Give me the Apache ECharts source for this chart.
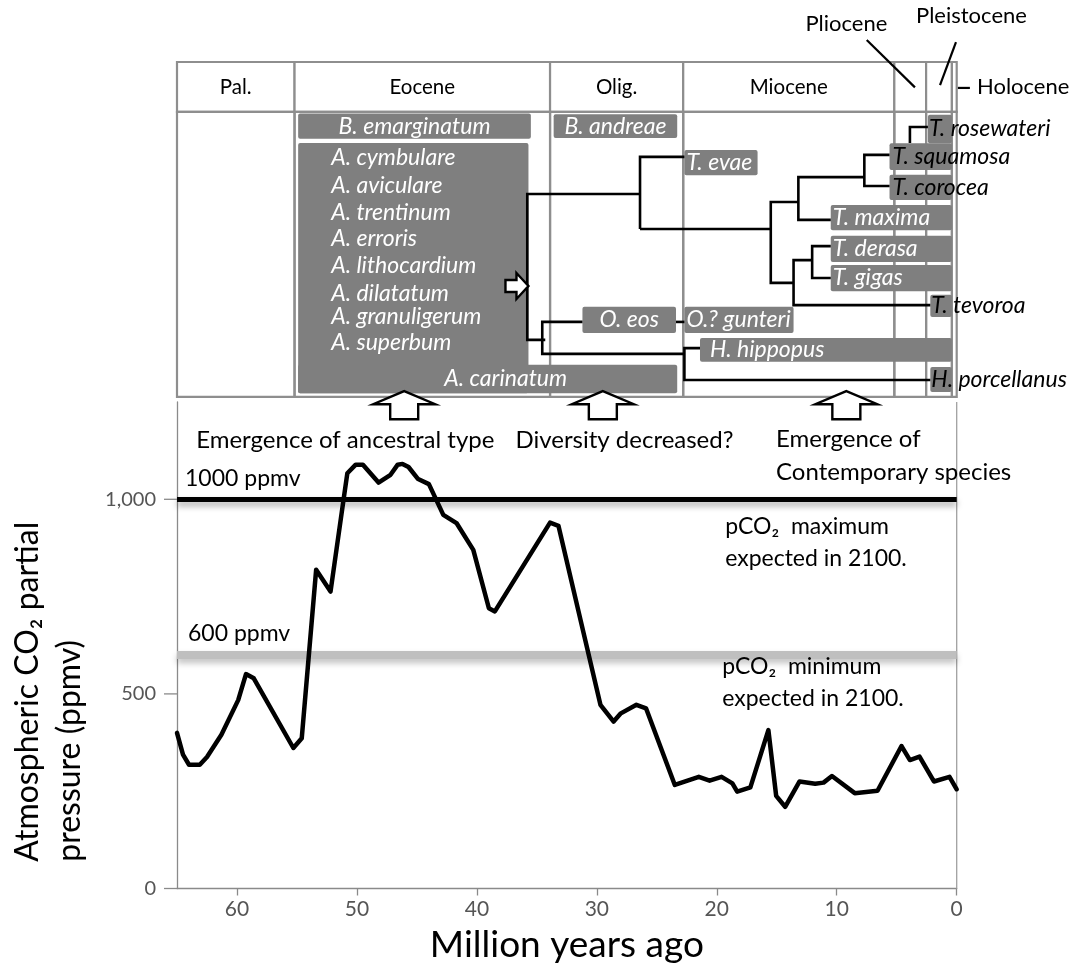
<!DOCTYPE html>
<html>
<head>
<meta charset="utf-8">
<script src="https://cdn.jsdelivr.net/npm/echarts@6/dist/echarts.min.js"></script>
<style>
  html, body { margin: 0; padding: 0; background: #fff; }
  #chart { width: 1070px; height: 973px; }
</style>
</head>
<body>
<div id="chart"></div>
<script>
// ---------------- data ----------------
// Atmospheric CO2 record: age (million years ago) and partial pressure (ppmv)
const CO2_AGE = [65, 64.5, 64.0, 63.1, 62.5, 61.3, 59.9, 59.25, 58.6, 55.3, 54.6, 53.4, 52.2, 51.2, 50.8,
  50.1, 49.5, 48.2, 47.2, 46.6, 46.2, 45.7, 44.9, 44.0, 42.8, 41.7, 40.3, 39.0, 38.5, 33.9, 33.2,
  31.1, 29.7, 28.6, 28.0, 26.7, 25.9, 23.5, 21.5, 20.6, 19.6, 18.7, 18.3, 17.2, 15.7, 15.05, 14.3,
  13.1, 11.8, 11.1, 10.4, 8.5, 6.6, 4.6, 3.9, 3.1, 1.9, 0.6, 0];
const CO2_PPMV = [400, 344, 318, 318, 338, 395, 484, 551, 540, 361, 386, 819, 763, 981, 1067,
  1089, 1089, 1043, 1063, 1089, 1091, 1083, 1052, 1039, 960, 939, 870, 720, 712, 940, 932,
  656, 472, 429, 450, 472, 463, 266, 287, 277, 287, 270, 249, 260, 407, 238, 210,
  275, 269, 272, 289, 245, 251, 366, 330, 339, 275, 287, 255];

// pCO2 levels expected in 2100
const LEVEL_VALUES = [1000, 600];
const LEVEL_LABELS = ['1000 ppmv', '600 ppmv'];

const X_TICKS = [60, 50, 40, 30, 20, 10, 0];
const Y_TICKS = [0, 500, 1000];

// Geological epochs (Ma)
const EPOCH_NAMES = ['Pal.', 'Eocene', 'Olig.', 'Miocene', 'Pliocene', 'Pleistocene', 'Holocene'];
const EPOCH_START = [65, 55.2, 33.9, 22.8, 5.2, 2.55, 0.4];
const EPOCH_END = [55.2, 33.9, 22.8, 5.2, 2.55, 0.4, 0];

// Giant clam taxa and their stratigraphic ranges (Ma)
const TAXON_NAMES = ['B. emarginatum', 'B. andreae', 'T. rosewateri', 'T. squamosa', 'T. evae',
  'T. corocea', 'T. maxima', 'T. derasa', 'T. gigas', 'T. tevoroa', 'O. eos', 'O.? gunteri',
  'H. hippopus', 'A. carinatum', 'H. porcellanus'];
const TAXON_OLDEST = [54.9, 33.6, 2.4, 5.6, 22.7, 5.6, 10.5, 10.5, 10.5, 2.2, 31.2, 22.7, 21.4, 54.9, 2.2];
const TAXON_YOUNGEST = [35.5, 23.3, 0.4, 0.4, 16.6, 0.4, 0.4, 0.4, 0.4, 0.4, 23.4, 13.6, 0.4, 23.3, 0.4];

// Eocene Avicularium group, sharing one range
const ANCESTRAL_NAMES = ['A. cymbulare', 'A. aviculare', 'A. trentinum', 'A. erroris',
  'A. lithocardium', 'A. dilatatum', 'A. granuligerum', 'A. superbum'];
const ANCESTRAL_RANGE = [54.9, 35.7];

// ---------------- layout (lanes of the phylogeny panel) ----------------
const HEADER_TOP = -2.25, HEADER_BOTTOM = -0.5, TABLE_BOTTOM = 9.5;
const TAXON_LANE = [0, 0, 0.1, 1.07, 1.28, 2.15, 3.21, 4.31, 5.33, 6.31, 6.8, 6.8, 7.85, 8.87, 8.89];
const TAXON_HALF = [0.44, 0.42, 0.5, 0.47, 0.44, 0.44, 0.44, 0.46, 0.46, 0.39, 0.46, 0.46, 0.42, 0.5, 0.44];
const ANCESTRAL_LANES = [1.1, 2.07, 3.02, 3.93, 4.91, 5.86, 6.7, 7.6];
const ANCESTRAL_BOX = [0.59, 9.37];

// label treatment: 'center' | 'left' (white in box) | 'dark' (black, runs past box)
const LABEL_MODE = {
  'B. emarginatum': 'center', 'B. andreae': 'center', 'O. eos': 'center',
  'T. rosewateri': 'dark', 'T. squamosa': 'dark', 'T. corocea': 'dark',
  'T. tevoroa': 'dark', 'H. porcellanus': 'dark'
};
const LABEL_PAD = { 'H. hippopus': 10, 'T. squamosa': 3, 'T. corocea': 3 };
const LABEL_CENTER_MA = { 'A. carinatum': 37.6 };

// Phylogenetic branches as (Ma, lane) polylines
const TREE_BRANCHES = [
  [[3.9, 0.59], [3.9, 0.03], [2.4, 0.03]],
  [[5.6, 1.01], [7.7, 1.01], [7.7, 2.1], [5.6, 2.1]],
  [[7.7, 1.79], [13.2, 1.79], [13.2, 3.29], [10.5, 3.29]],
  [[13.2, 2.66], [15.5, 2.66], [15.5, 5.5], [13.6, 5.5]],
  [[12.05, 4.7], [13.6, 4.7], [13.6, 6.28], [2.2, 6.28]],
  [[10.5, 4.21], [12.05, 4.21], [12.05, 5.33], [10.5, 5.33]],
  [[15.5, 3.61], [26.4, 3.61]],
  [[22.7, 1.08], [26.4, 1.08], [26.4, 3.61]],
  [[26.4, 2.38], [35.8, 2.38], [35.8, 7.5], [34.3, 7.5]],
  [[31.2, 6.87], [34.55, 6.87], [34.55, 7.99], [22.7, 7.99]],
  [[23.4, 6.87], [22.7, 6.87]],
  [[21.4, 7.79], [22.7, 7.79], [22.7, 8.91], [2.2, 8.91]]
];
const ROOT_POINTER = [35.7, 5.61];

// Epoch names placed above the table with leader lines
const EPOCH_CALLOUTS = [
  { text: 'Pliocene', at: [9.2, -3.58], align: 'center', leader: [[7.5, -3.02], [3.48, -1.36]] },
  { text: 'Pleistocene', at: [-1.23, -3.86], align: 'center', leader: [[0.06, -2.95], [1.39, -1.44]] },
  { text: 'Holocene', at: [-1.69, -1.37], align: 'left', leader: [[-0.1, -1.34], [-1.1, -1.34]] }
];

// Evolutionary phases marked under the table
const PHASE_ARROWS = [46.06, 29.5, 9.2];
const PHASE_NOTES = [
  { text: 'Emergence of ancestral type', at: [50.97, 11.01], align: 'center' },
  { text: 'Diversity decreased?', at: [27.7, 11.01], align: 'center' },
  { text: 'Emergence of\nContemporary species', at: [15.06, 11.58], align: 'left' }
];

// Notes beside the 2100 pCO2 levels (Ma, ppmv)
const LEVEL_NOTES = [
  { text: 'pCO\u2082  maximum\nexpected in 2100.', at: [19.3, 888] },
  { text: 'pCO\u2082  minimum\nexpected in 2100.', at: [19.55, 528] }
];

// ---------------- drawing ----------------
const FONT = 'Lato, "Noto Sans", "DejaVu Sans", sans-serif';
const FRAME = '#8e8e8e';
const AXIS = '#8a8a8a';
const BOX = '#7f7f7f';
const PANEL = { xAxisIndex: 1, yAxisIndex: 1, coordinateSystem: 'cartesian2d', silent: true, clip: false };

function textEl(x, y, text, opts) {
  return {
    type: 'text', x: x, y: y,
    style: Object.assign({ text: text, fill: '#000', fontFamily: FONT, fontSize: 23,
      align: 'left', verticalAlign: 'middle' }, opts || {})
  };
}

const chart = echarts.init(document.getElementById('chart'), null, { renderer: 'canvas' });

const option = {
  animation: false,
  backgroundColor: '#ffffff',
  textStyle: { fontFamily: FONT },
  grid: [
    { left: 177, right: 113.3, top: 402, bottom: 84.5, outerBoundsMode: 'none' },
    { left: 177, right: 113.3, top: 62, height: 420.375, outerBoundsMode: 'none' }
  ],
  xAxis: [
    {
      gridIndex: 0, type: 'value', min: 0, max: 65, interval: 10, inverse: true,
      axisLine: { show: true, onZero: false, lineStyle: { color: AXIS, width: 1.3 } },
      axisTick: { show: true, length: 7, customValues: X_TICKS, lineStyle: { color: AXIS, width: 1.3 } },
      axisLabel: { customValues: X_TICKS, margin: 10, fontSize: 21, color: '#555', fontFamily: FONT },
      splitLine: { show: false },
      name: 'Million years ago', nameLocation: 'middle', nameGap: 38,
      nameTextStyle: { fontSize: 37, color: '#000', fontFamily: FONT }
    },
    { gridIndex: 1, type: 'value', min: 0, max: 65, inverse: true, show: false }
  ],
  yAxis: [
    {
      gridIndex: 0, type: 'value', min: 0, max: 1250, interval: 500,
      axisLine: { show: true, onZero: false, lineStyle: { color: AXIS, width: 1.3 } },
      axisTick: { show: false },
      axisLabel: {
        customValues: Y_TICKS, margin: 21, fontSize: 20, color: '#555', fontFamily: FONT,
        formatter: v => Number(v).toLocaleString('en-US')
      },
      splitLine: { show: false },
      name: '{t|Atmospheric CO\u2082 partial}\n{t|pressure (ppmv)}',
      nameLocation: 'middle', nameGap: 86, nameMoveOverlap: false,
      nameTextStyle: {
        fontSize: 32, lineHeight: 42, color: '#000', fontFamily: FONT, padding: [0, 93, 0, 0],
        rich: { t: { fontSize: 32, lineHeight: 42, fontFamily: FONT, color: '#000', align: 'left' } }
      }
    },
    { gridIndex: 1, type: 'value', min: HEADER_TOP, max: 12.5, inverse: true, show: false }
  ],
  series: [
    // 2100 pCO2 reference levels
    {
      type: 'line', name: 'levels', xAxisIndex: 0, yAxisIndex: 0, data: [], z: 1, silent: true,
      markLine: {
        silent: true, symbol: ['none', 'none'], animation: false,
        data: LEVEL_VALUES.map((v, i) => ({
          yAxis: v,
          lineStyle: i === 0
            ? { color: '#000', width: 5, type: 'solid', shadowColor: 'rgba(0,0,0,0.35)', shadowBlur: 6, shadowOffsetY: 4 }
            : { color: '#bfbfbf', width: 8, type: 'solid', shadowColor: 'rgba(0,0,0,0.25)', shadowBlur: 6, shadowOffsetY: 4 },
          label: {
            show: true, position: 'insideEndTop', formatter: LEVEL_LABELS[i],
            color: '#000', fontSize: 23, fontFamily: FONT, distance: i === 0 ? [8, 9] : [11, 10]
          }
        }))
      }
    },
    // right frame of the plot
    {
      type: 'custom', name: 'frame', xAxisIndex: 0, yAxisIndex: 0, silent: true, z: 1, clip: false,
      data: [[0, 0, 1250]],
      renderItem(params, api) {
        const a = api.coord([api.value(0), api.value(1)]);
        const b = api.coord([api.value(0), api.value(2)]);
        return { type: 'line', shape: { x1: a[0], y1: a[1], x2: b[0], y2: b[1] },
          style: { stroke: '#a0a0a0', lineWidth: 1.3 } };
      }
    },
    // outward ticks of the ppmv axis
    {
      type: 'custom', name: 'yTicks', xAxisIndex: 0, yAxisIndex: 0, silent: true, z: 7, clip: false,
      data: Y_TICKS.map(v => [65, v]),
      renderItem(params, api) {
        const p = api.coord([api.value(0), api.value(1)]);
        return { type: 'line', shape: { x1: p[0] - 13, y1: p[1], x2: p[0], y2: p[1] },
          style: { stroke: AXIS, lineWidth: 1.3 } };
      }
    },
    // CO2 record
    {
      type: 'line', name: 'pCO2', xAxisIndex: 0, yAxisIndex: 0, z: 5, silent: true,
      data: CO2_AGE.map((a, i) => [a, CO2_PPMV[i]]),
      showSymbol: false, symbol: 'none',
      lineStyle: { color: '#000', width: 4.5, join: 'round', cap: 'round' }
    },
    // notes beside the levels
    {
      type: 'custom', name: 'levelNotes', xAxisIndex: 0, yAxisIndex: 0, silent: true, z: 6, clip: false,
      data: LEVEL_NOTES.map(n => n.at),
      renderItem(params, api) {
        const p = api.coord([api.value(0), api.value(1)]);
        return textEl(p[0], p[1], LEVEL_NOTES[params.dataIndex].text, { fontSize: 23, lineHeight: 32 });
      }
    },
    // epoch table: header cells and column rules
    Object.assign({
      type: 'custom', name: 'epochs', z: 2,
      data: EPOCH_NAMES.map((n, i) => [EPOCH_START[i], EPOCH_END[i]]),
      renderItem(params, api) {
        const i = params.dataIndex;
        const a = api.coord([api.value(0), HEADER_TOP]);
        const b = api.coord([api.value(1), HEADER_BOTTOM]);
        const c = api.coord([api.value(1), TABLE_BOTTOM]);
        const children = [
          { type: 'rect', shape: { x: a[0], y: a[1], width: b[0] - a[0], height: b[1] - a[1] },
            style: { fill: '#fff', stroke: FRAME, lineWidth: 2.2 } },
          { type: 'rect', shape: { x: a[0], y: b[1], width: c[0] - a[0], height: c[1] - b[1] },
            style: { fill: 'none', stroke: FRAME, lineWidth: 2.2 } }
        ];
        if (i < 4) {
          children.push(textEl((a[0] + b[0]) / 2, (a[1] + b[1]) / 2, EPOCH_NAMES[i], { align: 'center', fontSize: 20.5 }));
        }
        return { type: 'group', children: children };
      }
    }, PANEL),
    // epoch names with leaders
    Object.assign({
      type: 'custom', name: 'epochCallouts', z: 6,
      data: EPOCH_CALLOUTS.map(c => c.at),
      renderItem(params, api) {
        const c = EPOCH_CALLOUTS[params.dataIndex];
        const p = api.coord(c.at);
        const l0 = api.coord(c.leader[0]), l1 = api.coord(c.leader[1]);
        return { type: 'group', children: [
          { type: 'line', shape: { x1: l0[0], y1: l0[1], x2: l1[0], y2: l1[1] }, style: { stroke: '#000', lineWidth: 2.2 } },
          textEl(p[0], p[1], c.text, { align: c.align, fontSize: 22 })
        ] };
      }
    }, PANEL),
    // ancestral (Avicularium) block
    Object.assign({
      type: 'custom', name: 'ancestral', z: 3,
      data: [ANCESTRAL_RANGE],
      renderItem(params, api) {
        const a = api.coord([api.value(0), ANCESTRAL_BOX[0]]);
        const b = api.coord([api.value(1), ANCESTRAL_BOX[1]]);
        const children = [{ type: 'rect', shape: { x: a[0], y: a[1], width: b[0] - a[0], height: b[1] - a[1], r: 2 },
          style: { fill: BOX } }];
        ANCESTRAL_NAMES.forEach((n, k) => {
          const p = api.coord([api.value(0), ANCESTRAL_LANES[k]]);
          children.push(textEl(p[0] + 33, p[1], n, { fill: '#fff', fontStyle: 'italic' }));
        });
        return { type: 'group', children: children };
      }
    }, PANEL),
    // taxon range boxes
    Object.assign({
      type: 'custom', name: 'taxa', z: 3,
      data: TAXON_NAMES.map((n, i) => [TAXON_OLDEST[i], TAXON_YOUNGEST[i], TAXON_LANE[i]]),
      renderItem(params, api) {
        const i = params.dataIndex;
        const name = TAXON_NAMES[i];
        const lane = api.value(2);
        const a = api.coord([api.value(0), lane - TAXON_HALF[i]]);
        const b = api.coord([api.value(1), lane + TAXON_HALF[i]]);
        const mid = (a[1] + b[1]) / 2;
        const mode = LABEL_MODE[name] || 'left';
        let label;
        if (LABEL_CENTER_MA[name] !== undefined) {
          const c = api.coord([LABEL_CENTER_MA[name], lane]);
          label = textEl(c[0], mid, name, { align: 'center', fill: '#fff', fontStyle: 'italic' });
        } else if (mode === 'center') {
          label = textEl((a[0] + b[0]) / 2, mid, name, { align: 'center', fill: '#fff', fontStyle: 'italic' });
        } else if (mode === 'dark') {
          label = textEl(a[0] + (LABEL_PAD[name] || 1), mid, name, { fill: '#000', fontStyle: 'italic' });
        } else {
          label = textEl(a[0] + (LABEL_PAD[name] || 2), mid, name, { fill: '#fff', fontStyle: 'italic' });
        }
        return { type: 'group', children: [
          { type: 'rect', shape: { x: a[0], y: a[1], width: b[0] - a[0], height: b[1] - a[1], r: 2 }, style: { fill: BOX } },
          label
        ] };
      }
    }, PANEL),
    // phylogeny branches
    Object.assign({
      type: 'custom', name: 'tree', z: 4,
      data: TREE_BRANCHES.map((b, i) => [i]),
      renderItem(params, api) {
        const pts = TREE_BRANCHES[params.dataIndex].map(p => api.coord(p));
        return { type: 'polyline', shape: { points: pts },
          style: { stroke: '#000', lineWidth: 2.6, fill: null, lineJoin: 'miter' } };
      }
    }, PANEL),
    // hollow pointer at the root
    Object.assign({
      type: 'custom', name: 'rootPointer', z: 5,
      data: [ROOT_POINTER],
      renderItem(params, api) {
        const p = api.coord([api.value(0), api.value(1)]);
        const x = p[0], y = p[1];
        return { type: 'polygon',
          shape: { points: [[x, y], [x - 12, y - 13], [x - 12, y - 6], [x - 23, y - 6], [x - 23, y + 6], [x - 12, y + 6], [x - 12, y + 13]] },
          style: { fill: '#fff', stroke: '#000', lineWidth: 2.4 } };
      }
    }, PANEL),
    // phase arrows below the table
    Object.assign({
      type: 'custom', name: 'phaseArrows', z: 6,
      data: PHASE_ARROWS.map(m => [m, TABLE_BOTTOM - 0.2]),
      renderItem(params, api) {
        const p = api.coord([api.value(0), api.value(1)]);
        const x = p[0], y = p[1];
        return { type: 'polygon',
          shape: { points: [[x, y], [x + 31, y + 13], [x + 14, y + 13], [x + 14, y + 28], [x - 14, y + 28], [x - 14, y + 13], [x - 31, y + 13]] },
          style: { fill: '#fff', stroke: '#000', lineWidth: 2.4 } };
      }
    }, PANEL),
    // phase notes
    Object.assign({
      type: 'custom', name: 'phaseNotes', z: 6,
      data: PHASE_NOTES.map(n => n.at),
      renderItem(params, api) {
        const n = PHASE_NOTES[params.dataIndex];
        const p = api.coord([api.value(0), api.value(1)]);
        return textEl(p[0], p[1], n.text, { align: n.align, fontSize: 24, lineHeight: 33 });
      }
    }, PANEL)
  ]
};

chart.setOption(option);
</script>
</body>
</html>
